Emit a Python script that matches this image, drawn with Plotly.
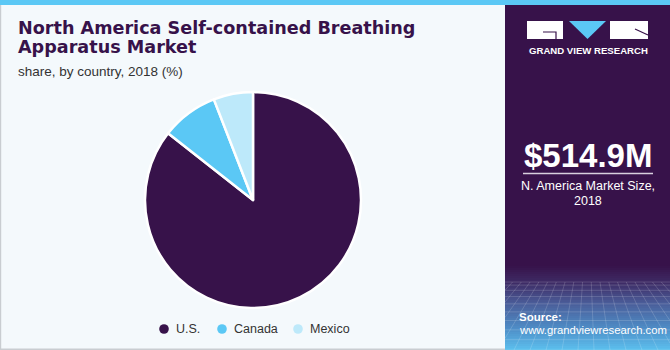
import plotly.graph_objects as go

# ---- data ----
countries = ["U.S.", "Canada", "Mexico"]
shares = [85.6, 8.5, 5.9]
slice_colors = ["#37124A", "#5BC8F5", "#BDE9FA"]

title_lines = ["North America Self-contained Breathing", "Apparatus Market"]
subtitle = "share, by country, 2018 (%)"
market_size = "$514.9M"
market_label = ["N. America Market Size,", "2018"]
brand = "GRAND VIEW RESEARCH"
source_lines = ["Source:", "www.grandviewresearch.com"]

W, H = 670, 350
PURPLE = "#37124A"
BG = "#F4F9FC"


def px(x):
    return x / W


def py(y):
    return 1 - y / H


fig = go.Figure()

fig.add_trace(go.Pie(
    labels=countries, values=shares, sort=False, direction="clockwise",
    rotation=0, textinfo="none", hoverinfo="label+percent",
    marker=dict(colors=slice_colors, line=dict(color="white", width=2.5)),
    domain=dict(x=[px(145), px(361)], y=[py(308), py(92)]),
    showlegend=False,
))

shapes = []
ann = []
TF = "Liberation Sans, Arial, sans-serif"

# right panel
shapes.append(dict(type="rect", xref="paper", yref="paper", x0=px(505), x1=1, y0=0, y1=1,
                   fillcolor=PURPLE, line=dict(width=0)))
# gradient at bottom of right panel
stops = [(266, (0x37, 0x12, 0x4A)), (283, (0x3E, 0x2C, 0x66)), (303, (0x4A, 0x5C, 0x98)),
         (328, (0x4E, 0x8C, 0xC6)), (350, (0x5C, 0xC0, 0xEE))]


def grad(y):
    for (y0, c0), (y1, c1) in zip(stops[:-1], stops[1:]):
        if y0 <= y <= y1:
            t = (y - y0) / (y1 - y0)
            return "rgb(%d,%d,%d)" % tuple(round(a + (b - a) * t) for a, b in zip(c0, c1))
    return "rgb(%d,%d,%d)" % stops[-1][1]


y = 266
while y < 350:
    shapes.append(dict(type="rect", xref="paper", yref="paper", x0=px(505), x1=1,
                       y0=py(y + 2.2), y1=py(y), fillcolor=grad(y + 1), line=dict(width=0)))
    y += 2
# faint mesh
mesh = "rgba(255,255,255,0.16)"
hy = 282
for k in range(10):
    yy = hy + (350 - hy) * (k / 9) ** 1.4
    shapes.append(dict(type="line", xref="paper", yref="paper", x0=px(505), x1=1,
                       y0=py(yy), y1=py(yy), line=dict(color=mesh, width=1)))
vx, vy = 588, 200
for xb in range(370, 810, 16):
    x1_, y1_ = vx + (xb - vx) * (hy - vy) / (350 - vy), hy
    x2_, y2_ = xb, 350
    if x2_ < 505 and x1_ < 505:
        continue
    if x2_ > 670 and x1_ > 670:
        continue
    for lim in (505, 670):
        if (x2_ - lim) * (x1_ - lim) < 0:
            t = (lim - x1_) / (x2_ - x1_)
            y2_ = y1_ + t * (y2_ - y1_)
            x2_ = lim
    shapes.append(dict(type="line", xref="paper", yref="paper", x0=px(x1_), x1=px(x2_),
                       y0=py(y1_), y1=py(y2_), line=dict(color=mesh, width=1)))

# top strip
shapes.append(dict(type="rect", xref="paper", yref="paper", x0=0, x1=1, y0=py(5), y1=1,
                   fillcolor="#5BC8F5", line=dict(width=0)))
# left panel borders
shapes.append(dict(type="rect", xref="paper", yref="paper", x0=0, x1=px(1.2), y0=0, y1=py(5),
                   fillcolor="#C9CDD1", line=dict(width=0)))
shapes.append(dict(type="rect", xref="paper", yref="paper", x0=0, x1=px(505), y0=0, y1=py(348.5),
                   fillcolor="#C9CDD1", line=dict(width=0)))
# logo
shapes.append(dict(type="rect", xref="paper", yref="paper", x0=px(527), x1=px(563), y0=py(39), y1=py(21),
                   fillcolor="white", line=dict(width=0)))
shapes.append(dict(type="path", xref="paper", yref="paper",
                   path="M %f %f L %f %f L %f %f Z" % (px(569), py(21), px(606), py(21), px(587.5), py(39)),
                   fillcolor="#5BC8F5", line=dict(width=0)))
shapes.append(dict(type="rect", xref="paper", yref="paper", x0=px(610), x1=px(648), y0=py(39), y1=py(21),
                   fillcolor="white", line=dict(width=0)))
shapes.append(dict(type="path", xref="paper", yref="paper",
                   path="M %f %f L %f %f L %f %f" % (px(543), py(32), px(556), py(32), px(556), py(39)),
                   line=dict(color=PURPLE, width=1.2)))
shapes.append(dict(type="line", xref="paper", yref="paper", x0=px(635), y0=py(29), x1=px(648), y1=py(35),
                   line=dict(color=PURPLE, width=1.2)))
# rule under market size
shapes.append(dict(type="line", xref="paper", yref="paper", x0=px(523), x1=px(653), y0=py(173.5), y1=py(173.5),
                   line=dict(color="#D8D0DE", width=1.5)))

# legend (circle symbols + labels)
legend_sym_x = [164, 222, 298]
legend_y = 329
for name, col, lx in zip(countries, slice_colors, legend_sym_x):
    shapes.append(dict(type="circle", xref="paper", yref="paper",
                       x0=px(lx - 4.8), x1=px(lx + 4.8), y0=py(legend_y + 4.8), y1=py(legend_y - 4.8),
                       fillcolor=col, line=dict(width=0)))
    ann.append(dict(text=name, x=px(lx + 10), y=py(legend_y), xref="paper", yref="paper",
                    xanchor="left", yanchor="middle", showarrow=False,
                    font=dict(family=TF, size=12.5, color="#333333")))

HF = "DejaVu Sans, Liberation Sans, sans-serif"
for i, line in enumerate(title_lines):
    ann.append(dict(text="<b>%s</b>" % line, x=px(16), y=py(28.5 + 19 * i), xref="paper", yref="paper",
                    xanchor="left", yanchor="middle", showarrow=False,
                    font=dict(family=HF, size=17.6, color=PURPLE)))
ann.append(dict(text=subtitle, x=px(16), y=py(71), xref="paper", yref="paper",
                xanchor="left", yanchor="middle", showarrow=False,
                font=dict(family=TF, size=13.5, color="#333333")))
ann.append(dict(text="<b>%s</b>" % brand, x=px(588), y=py(51), xref="paper", yref="paper",
                xanchor="center", yanchor="middle", showarrow=False,
                font=dict(family=TF, size=9.6, color="white")))
ann.append(dict(text="<b>%s</b>" % market_size, x=px(588), y=py(155.5), xref="paper", yref="paper",
                xanchor="center", yanchor="middle", showarrow=False,
                font=dict(family=TF, size=33, color="white")))
for i, line in enumerate(market_label):
    ann.append(dict(text=line, x=px(588), y=py(186 + 14.5 * i), xref="paper", yref="paper",
                    xanchor="center", yanchor="middle", showarrow=False,
                    font=dict(family=TF, size=12.5, color="white")))
ann.append(dict(text="<b>%s</b>" % source_lines[0], x=px(517), y=py(316.5), xref="paper", yref="paper",
                xanchor="left", yanchor="middle", showarrow=False,
                font=dict(family=TF, size=11.5, color="white")))
ann.append(dict(text=source_lines[1], x=px(517), y=py(330), xref="paper", yref="paper",
                xanchor="left", yanchor="middle", showarrow=False,
                font=dict(family=TF, size=11.3, color="white")))

fig.update_layout(
    width=W, height=H, margin=dict(l=0, r=0, t=0, b=0),
    paper_bgcolor=BG, plot_bgcolor="rgba(0,0,0,0)",
    shapes=shapes, annotations=ann, showlegend=False,
)

fig.write_html("out.html")
